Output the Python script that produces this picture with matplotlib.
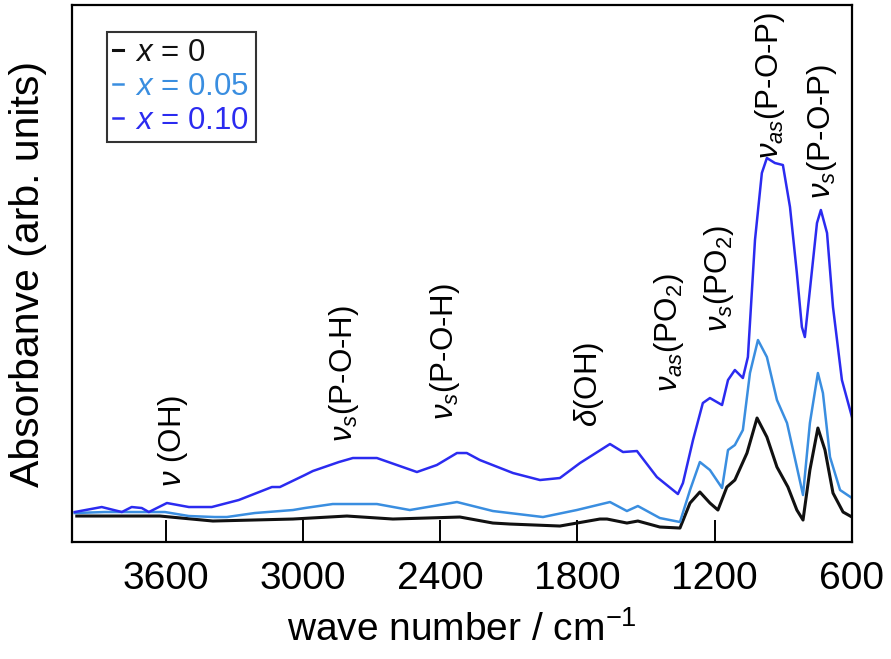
import matplotlib.pyplot as plt

plt.rcParams["font.family"] = ["Liberation Sans", "DejaVu Sans"]
plt.rcParams["mathtext.fontset"] = "custom"
plt.rcParams["mathtext.rm"] = "Liberation Sans"
plt.rcParams["mathtext.it"] = "Liberation Sans:italic"
plt.rcParams["mathtext.bf"] = "Liberation Sans:bold"

# spectra (wave number, absorbance in arb. units)
wn_010 = [3998, 3880, 3792, 3749, 3705, 3674, 3595, 3499, 3399, 3281, 3136, 3101, 2992, 2957,
          2843, 2782, 2677, 2502, 2415, 2327, 2284, 2227, 2082, 1964, 1877, 1789, 1658, 1601,
          1540, 1453, 1361, 1339, 1295, 1252, 1221, 1168, 1142, 1112, 1077, 1055, 1024, 994,
          972, 937, 902, 871, 841, 819, 806, 784, 753, 736, 709, 683, 644, 600]
ab_010 = [30, 35, 30, 35, 34, 30, 39, 35, 35, 42, 55, 55, 67, 71,
          80, 84, 84, 70, 77, 89, 89, 82, 69, 62, 64, 79, 98, 90,
          91, 65, 48, 59, 102, 139, 144, 137, 162, 172, 164, 185, 302, 369,
          384, 379, 377, 335, 269, 215, 205, 252, 319, 332, 309, 235, 162, 125]

wn_005 = [3998, 3867, 3718, 3604, 3499, 3386, 3333, 3211, 3044, 2992, 2870, 2699, 2677, 2533,
          2327, 2170, 1951, 1803, 1658, 1584, 1536, 1440, 1352, 1308, 1265, 1221, 1168, 1142,
          1112, 1077, 1046, 1011, 972, 928, 884, 841, 814, 784, 749, 727, 696, 652, 600]
ab_005 = [29, 30, 30, 30, 26, 25, 25, 29, 32, 34, 38, 38, 38, 32,
          40, 31, 25, 32, 40, 31, 36, 24, 20, 52, 80, 72, 54, 92,
          97, 112, 169, 202, 185, 142, 119, 75, 47, 119, 169, 149, 85, 52, 44]

wn_0 = [3989, 3626, 3394, 3044, 2808, 2607, 2314, 2170, 2096, 1877, 1702, 1671, 1584, 1536,
        1440, 1352, 1308, 1265, 1221, 1186, 1147, 1112, 1059, 1015, 972, 928, 880, 841,
        814, 784, 749, 718, 683, 639, 600]
ab_0 = [26, 26, 21, 23, 26, 23, 25, 19, 18, 16, 23, 23, 19, 21,
        15, 14, 39, 50, 39, 32, 55, 62, 89, 124, 105, 75, 55, 32,
        22, 72, 114, 92, 49, 30, 25]

# band assignments: label, wave number, bottom of the text
band_labels = [r"$\nu$ (OH)", r"$\nu_s$(P-O-H)", r"$\nu_s$(P-O-H)", r"$\delta$(OH)",
               r"$\nu_{as}$(PO$_2$)", r"$\nu_s$(PO$_2$)", r"$\nu_{as}$(P-O-P)", r"$\nu_s$(P-O-P)"]
band_wn = [3570, 2820, 2380, 1750, 1400, 1180, 960, 730]
band_y = [55, 100, 122, 115, 150, 210, 383, 343]

c_0 = "#111111"
c_005 = "#3a8ee0"
c_010 = "#2b2bf0"

fig = plt.figure(figsize=(8.91, 6.59), dpi=100)
ax = fig.add_axes([0.0808, 0.1775, 0.8754, 0.8149])

ax.plot(wn_0, ab_0, color=c_0, lw=2.2, label=r"$x$ = 0")
ax.plot(wn_005, ab_005, color=c_005, lw=1.8, label=r"$x$ = 0.05")
ax.plot(wn_010, ab_010, color=c_010, lw=1.8, label=r"$x$ = 0.10")

for lab, w, y in zip(band_labels, band_wn, band_y):
    ax.text(w, y, lab, rotation=90, ha="center", va="bottom", fontsize=22.5)

ax.set_xlim(4010, 600)
ax.set_ylim(0, 537)
ax.set_xticks([3600, 3000, 2400, 1800, 1200, 600])
ax.set_yticks([])
ax.tick_params(axis="x", direction="in", length=16, width=1.4, labelsize=28, pad=14)
for s in ax.spines.values():
    s.set_linewidth(1.6)

ax.set_xlabel("wave number / cm$^{-1}$", fontsize=28, labelpad=10)
ax.set_ylabel("Absorbanve (arb. units)", fontsize=29.5)
ax.yaxis.set_label_coords(-0.032, 0.5)

leg = ax.legend(loc="upper left", bbox_to_anchor=(0.045, 0.95), fontsize=22.5,
                handlelength=0.3, handletextpad=0.4, borderpad=0.2, labelspacing=0.12,
                borderaxespad=0, frameon=True, fancybox=False, edgecolor="black")
leg.get_frame().set_linewidth(1.5)
for txt, col in zip(leg.get_texts(), [c_0, c_005, c_010]):
    txt.set_color(col)

fig.savefig("out.png", dpi=100)
